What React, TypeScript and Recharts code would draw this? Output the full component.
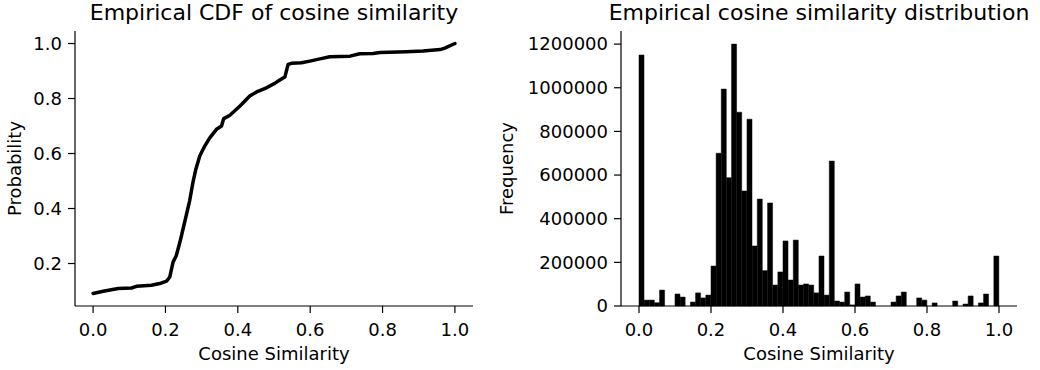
import React from 'react';
import { LineChart, Line, XAxis, YAxis, BarChart, Bar, Label } from 'recharts';

// ---- Data ----
const cdfX = [0, 0.028, 0.069, 0.106, 0.12, 0.161, 0.184, 0.203, 0.212, 0.221, 0.23, 0.24, 0.253, 0.267, 0.276, 0.284, 0.295, 0.309, 0.323, 0.341, 0.355, 0.361, 0.378, 0.406, 0.433, 0.452, 0.479, 0.502, 0.516, 0.53, 0.539, 0.548, 0.576, 0.599, 0.627, 0.654, 0.71, 0.737, 0.774, 0.793, 0.866, 0.912, 0.959, 0.972, 1.0];
const cdfY = [0.091, 0.099, 0.109, 0.111, 0.117, 0.121, 0.127, 0.136, 0.151, 0.205, 0.229, 0.278, 0.35, 0.429, 0.495, 0.543, 0.592, 0.628, 0.658, 0.688, 0.7, 0.727, 0.739, 0.773, 0.809, 0.824, 0.839, 0.855, 0.867, 0.878, 0.924, 0.928, 0.93, 0.936, 0.944, 0.952, 0.954, 0.963, 0.964, 0.967, 0.97, 0.973, 0.978, 0.983, 1.0];

const NUM_BINS = 70;
const histCounts = [
  1150000, 27000, 27000, 15000, 73000, 0, 0, 55000, 41000, 0,
  18000, 60000, 37000, 50000, 183000, 700000, 994000, 588000, 1200000, 888000,
  527000, 856000, 275000, 490000, 162000, 472000, 96000, 156000, 298000, 119000,
  302000, 96000, 101000, 96000, 60000, 229000, 50000, 664000, 23000, 18000,
  64000, 5000, 101000, 41000, 46000, 18000, 0, 0, 0, 18000,
  46000, 64000, 0, 0, 37000, 27000, 0, 14000, 0, 0,
  0, 23000, 0, 9000, 46000, 0, 14000, 55000, 0, 229000,
];

const xTicks = [0, 0.2, 0.4, 0.6, 0.8, 1.0];
const cdfYTicks = [0.2, 0.4, 0.6, 0.8, 1.0];
const histYTicks = [0, 200000, 400000, 600000, 800000, 1000000, 1200000];

const titles = ['Empirical CDF of cosine similarity', 'Empirical cosine similarity distribution'];
const xLabel = 'Cosine Similarity';
const yLabels = ['Probability', 'Frequency'];

const cdfData = cdfX.map((x, i) => ({ x, p: cdfY[i] }));
const histData = histCounts.map((count, i) => ({ x: (i + 0.5) / NUM_BINS, count }));

const FONT = 'DejaVu Sans';
const tickStyle = { fontSize: 18, fill: '#000', fontFamily: FONT };

const yLabelContent = (text: string, baselineX: number) => (props: any) => {
  const vb = props.viewBox || { x: 0, y: 0, width: 0, height: 0 };
  const cy = vb.y + vb.height / 2;
  return (
    <text
      x={baselineX}
      y={cy}
      transform={`rotate(-90 ${baselineX} ${cy})`}
      textAnchor="middle"
      fontSize={18}
      fill="#000"
      fontFamily={FONT}
    >
      {text}
    </text>
  );
};

export default function App() {
  return (
    <div style={{ position: 'absolute', left: 0, top: 0, width: 1040, height: 370, background: '#fff', fontFamily: FONT }}>
      <div style={{ position: 'absolute', left: 0, top: 0 }}>
        <LineChart width={480} height={370} data={cdfData} margin={{ top: 31, right: 7, bottom: 8, left: 0 }}>
          <XAxis
            dataKey="x"
            type="number"
            domain={[-0.05, 1.05]}
            ticks={xTicks}
            interval={0}
            tickFormatter={(v: number) => v.toFixed(1)}
            tick={tickStyle}
            tickSize={7}
            tickMargin={10}
            height={56}
            axisLine={{ stroke: '#000', strokeWidth: 1.2 }}
            tickLine={{ stroke: '#000', strokeWidth: 1.2 }}
          >
            <Label value={xLabel} position="insideBottom" offset={2} style={{ fontSize: 18, fill: '#000', fontFamily: FONT }} />
          </XAxis>
          <YAxis
            type="number"
            domain={[0.0455, 1.0455]}
            ticks={cdfYTicks}
            interval={0}
            tickFormatter={(v: number) => v.toFixed(1)}
            tick={tickStyle}
            tickSize={7}
            tickMargin={6}
            width={75}
            axisLine={{ stroke: '#000', strokeWidth: 1.2 }}
            tickLine={{ stroke: '#000', strokeWidth: 1.2 }}
          >
            <Label content={yLabelContent(yLabels[0], 21)} />
          </YAxis>
          <Line
            type="linear"
            dataKey="p"
            stroke="#000"
            strokeWidth={3.5}
            dot={false}
            strokeLinejoin="round"
            strokeLinecap="round"
            isAnimationActive={false}
          />
        </LineChart>
      </div>
      <div style={{ position: 'absolute', left: 480, top: 0 }}>
        <BarChart
          width={560}
          height={370}
          data={histData}
          margin={{ top: 31, right: 23, bottom: 8, left: 0 }}
          barCategoryGap={0}
          barGap={0}
        >
          <XAxis
            dataKey="x"
            type="number"
            domain={[-0.05, 1.05]}
            ticks={xTicks}
            interval={0}
            tickFormatter={(v: number) => v.toFixed(1)}
            tick={tickStyle}
            tickSize={7}
            tickMargin={10}
            height={56}
            axisLine={{ stroke: '#000', strokeWidth: 1.2 }}
            tickLine={{ stroke: '#000', strokeWidth: 1.2 }}
          >
            <Label value={xLabel} position="insideBottom" offset={2} style={{ fontSize: 18, fill: '#000', fontFamily: FONT }} />
          </XAxis>
          <YAxis
            type="number"
            domain={[0, 1260000]}
            ticks={histYTicks}
            interval={0}
            tick={tickStyle}
            tickSize={7}
            tickMargin={6}
            width={141}
            axisLine={{ stroke: '#000', strokeWidth: 1.2 }}
            tickLine={{ stroke: '#000', strokeWidth: 1.2 }}
          >
            <Label content={yLabelContent(yLabels[1], 33)} />
          </YAxis>
          <Bar dataKey="count" fill="#000" stroke="#000" strokeWidth={0.5} isAnimationActive={false} />
        </BarChart>
      </div>
      <svg width={1040} height={370} style={{ position: 'absolute', left: 0, top: 0, pointerEvents: 'none' }}>
        <text x={274} y={20} textAnchor="middle" fontSize={22} fill="#000" fontFamily={FONT}>{titles[0]}</text>
        <text x={819} y={20} textAnchor="middle" fontSize={22} fill="#000" fontFamily={FONT}>{titles[1]}</text>
      </svg>
    </div>
  );
}
